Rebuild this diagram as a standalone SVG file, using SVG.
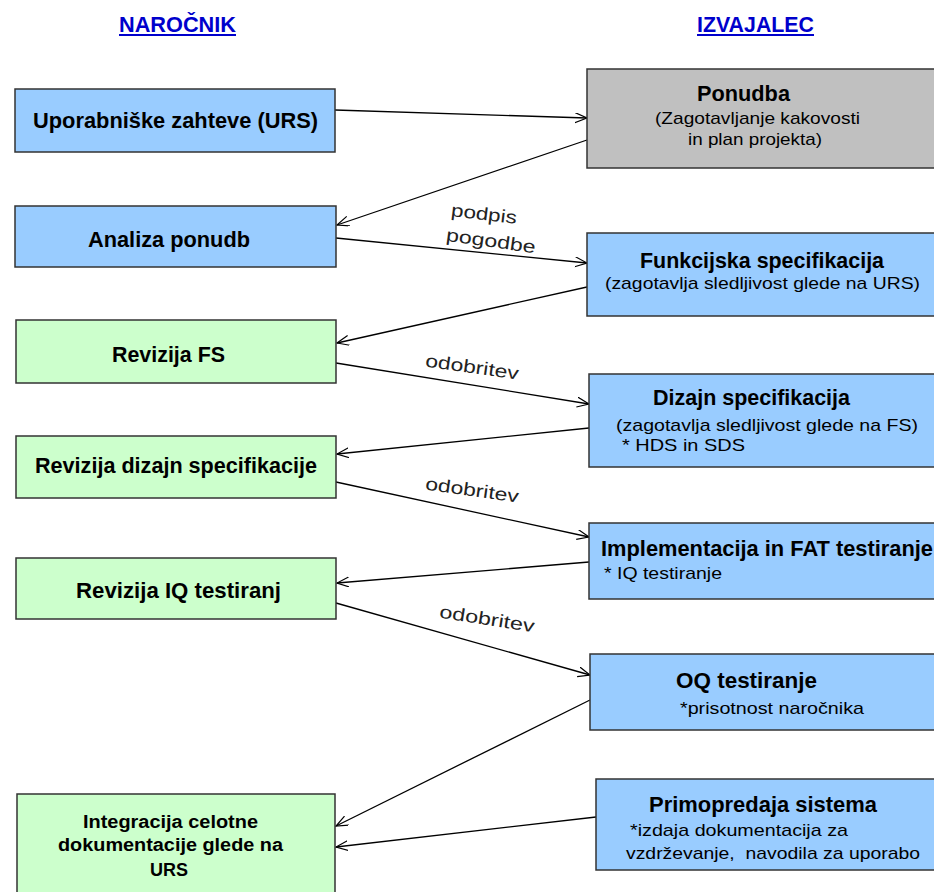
<svg xmlns="http://www.w3.org/2000/svg" width="934" height="892" viewBox="0 0 934 892">
<defs>
<style>
.box{stroke:#333;stroke-width:1.5}
.blue{fill:#99CCFF}
.green{fill:#CCFFCC}
.gray{fill:#C0C0C0}
.b{font-family:"Liberation Sans",Arial,sans-serif;font-weight:bold;font-size:22px;fill:#000}
.bs{font-family:"Liberation Sans",Arial,sans-serif;font-weight:bold;font-size:18px;fill:#000}
.r{font-family:"Liberation Sans",Arial,sans-serif;font-size:17px;fill:#000}
.lab{font-family:"Liberation Sans",Arial,sans-serif;font-size:18px;fill:#222}
.hd{font-family:"Liberation Sans",Arial,sans-serif;font-weight:bold;font-size:22px;fill:#0000CC}
.c{stroke:#000;stroke-width:1.3;fill:none}
</style>
<marker id="ah" markerUnits="userSpaceOnUse" markerWidth="14" markerHeight="12" refX="12" refY="5" orient="auto">
<path d="M0,0 L12,5 L0,10" fill="none" stroke="#000" stroke-width="1.2"/>
</marker>
</defs>
<rect width="934" height="892" fill="#fff"/>
<g id="headers">
<text class="hd" x="119" y="32" textLength="117" lengthAdjust="spacingAndGlyphs">NAROČNIK</text>
<rect x="119" y="34" width="117" height="2" fill="#0000CC"/>
<text class="hd" x="697" y="32" textLength="117" lengthAdjust="spacingAndGlyphs">IZVAJALEC</text>
<rect x="697" y="34" width="117" height="2" fill="#0000CC"/>
</g>
<g id="connectors">
<line class="c" x1="335" y1="110" x2="587" y2="118" marker-end="url(#ah)"/>
<line class="c" x1="587" y1="140" x2="337" y2="225" marker-end="url(#ah)"/>
<line class="c" x1="336" y1="238" x2="587" y2="263" marker-end="url(#ah)"/>
<line class="c" x1="587" y1="287" x2="337" y2="343" marker-end="url(#ah)"/>
<line class="c" x1="336" y1="363" x2="589" y2="404" marker-end="url(#ah)"/>
<line class="c" x1="589" y1="428" x2="337" y2="454" marker-end="url(#ah)"/>
<line class="c" x1="336" y1="482" x2="589" y2="537" marker-end="url(#ah)"/>
<line class="c" x1="589" y1="562" x2="337" y2="583" marker-end="url(#ah)"/>
<line class="c" x1="336" y1="603" x2="590" y2="675" marker-end="url(#ah)"/>
<line class="c" x1="590" y1="700" x2="336" y2="826" marker-end="url(#ah)"/>
<line class="c" x1="596" y1="817" x2="336" y2="847" marker-end="url(#ah)"/>
<text class="lab" transform="translate(484,214) rotate(7)" x="0" y="6" text-anchor="middle" textLength="66" lengthAdjust="spacingAndGlyphs">podpis</text>
<text class="lab" transform="translate(491,241) rotate(8)" x="0" y="6" text-anchor="middle" textLength="90" lengthAdjust="spacingAndGlyphs">pogodbe</text>
<text class="lab" transform="translate(472,368) rotate(8)" x="0" y="5" text-anchor="middle" textLength="94" lengthAdjust="spacingAndGlyphs">odobritev</text>
<text class="lab" transform="translate(472,491) rotate(8)" x="0" y="5" text-anchor="middle" textLength="94" lengthAdjust="spacingAndGlyphs">odobritev</text>
<text class="lab" transform="translate(487,620) rotate(9)" x="0" y="5" text-anchor="middle" textLength="96" lengthAdjust="spacingAndGlyphs">odobritev</text>
</g>
<g id="urs">
<rect class="box blue" x="15" y="89" width="320" height="63"/>
<text class="b" x="33" y="128" textLength="285" lengthAdjust="spacingAndGlyphs">Uporabniške zahteve (URS)</text>
</g>
<g id="analiza">
<rect class="box blue" x="15" y="206" width="321" height="61"/>
<text class="b" x="88" y="247" textLength="162" lengthAdjust="spacingAndGlyphs">Analiza ponudb</text>
</g>
<g id="revfs">
<rect class="box green" x="16" y="320" width="320" height="63"/>
<text class="b" x="112" y="362" textLength="113" lengthAdjust="spacingAndGlyphs">Revizija FS</text>
</g>
<g id="revds">
<rect class="box green" x="16" y="436" width="320" height="62"/>
<text class="b" x="35" y="473" textLength="282" lengthAdjust="spacingAndGlyphs">Revizija dizajn specifikacije</text>
</g>
<g id="reviq">
<rect class="box green" x="16" y="558" width="320" height="61"/>
<text class="b" x="76" y="598" textLength="205" lengthAdjust="spacingAndGlyphs">Revizija IQ testiranj</text>
</g>
<g id="integracija">
<rect class="box green" x="17" y="794" width="318" height="104"/>
<text class="bs" x="83" y="828" textLength="175" lengthAdjust="spacingAndGlyphs">Integracija celotne</text>
<text class="bs" x="58" y="851" textLength="225" lengthAdjust="spacingAndGlyphs">dokumentacije glede na</text>
<text class="bs" x="150" y="876" textLength="38" lengthAdjust="spacingAndGlyphs">URS</text>
</g>
<g id="ponudba">
<rect class="box gray" x="587" y="69" width="360" height="99"/>
<text class="b" x="697" y="101" textLength="93" lengthAdjust="spacingAndGlyphs">Ponudba</text>
<text class="r" x="655" y="124" textLength="205" lengthAdjust="spacingAndGlyphs">(Zagotavljanje kakovosti</text>
<text class="r" x="688" y="145" textLength="134" lengthAdjust="spacingAndGlyphs">in plan projekta)</text>
</g>
<g id="funkcijska">
<rect class="box blue" x="587" y="233" width="360" height="83"/>
<text class="b" x="640" y="268" textLength="244" lengthAdjust="spacingAndGlyphs">Funkcijska specifikacija</text>
<text class="r" x="605" y="289" textLength="315" lengthAdjust="spacingAndGlyphs">(zagotavlja sledljivost glede na URS)</text>
</g>
<g id="dizajn">
<rect class="box blue" x="589" y="374" width="360" height="93"/>
<text class="b" x="653" y="405" textLength="197" lengthAdjust="spacingAndGlyphs">Dizajn specifikacija</text>
<text class="r" x="616" y="431" textLength="302" lengthAdjust="spacingAndGlyphs">(zagotavlja sledljivost glede na FS)</text>
<text class="r" x="622" y="451" textLength="123" lengthAdjust="spacingAndGlyphs">* HDS in SDS</text>
</g>
<g id="implementacija">
<rect class="box blue" x="589" y="523" width="360" height="76"/>
<text class="b" x="601" y="556" textLength="332" lengthAdjust="spacingAndGlyphs">Implementacija in FAT testiranje</text>
<text class="r" x="604" y="579" textLength="118" lengthAdjust="spacingAndGlyphs">* IQ testiranje</text>
</g>
<g id="oq">
<rect class="box blue" x="590" y="654" width="360" height="76"/>
<text class="b" x="676" y="688" textLength="141" lengthAdjust="spacingAndGlyphs">OQ testiranje</text>
<text class="r" x="680" y="714" textLength="184" lengthAdjust="spacingAndGlyphs">*prisotnost naročnika</text>
</g>
<g id="primopredaja">
<rect class="box blue" x="596" y="779" width="360" height="91"/>
<text class="b" x="649" y="812" textLength="228" lengthAdjust="spacingAndGlyphs">Primopredaja sistema</text>
<text class="r" x="630" y="836" textLength="218" lengthAdjust="spacingAndGlyphs">*izdaja dokumentacija za</text>
<text class="r" x="626" y="859" textLength="294" lengthAdjust="spacingAndGlyphs" xml:space="preserve">vzdrževanje,  navodila za uporabo</text>
</g>
</svg>
